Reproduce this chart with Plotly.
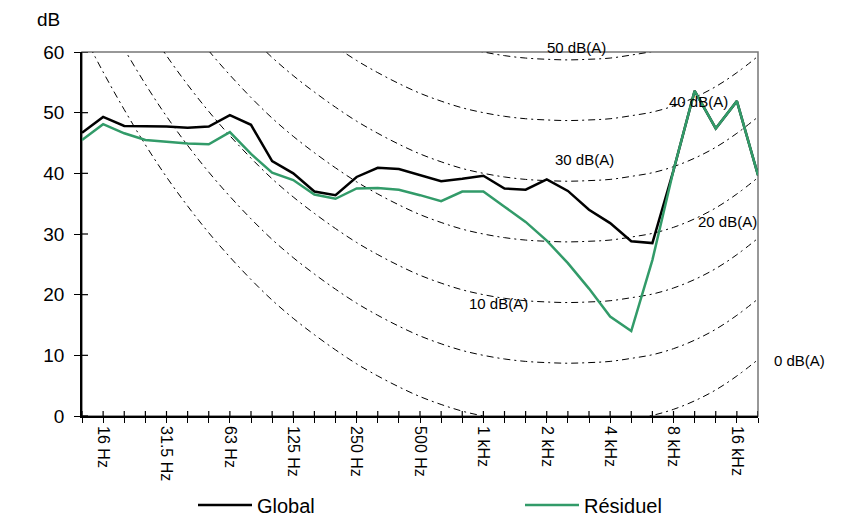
import plotly.graph_objects as go

# Third-octave band centre frequencies (Hz)
bands = [12.5, 16, 20, 25, 31.5, 40, 50, 63, 80, 100, 125, 160, 200, 250, 315,
         400, 500, 630, 800, 1000, 1250, 1600, 2000, 2500, 3150, 4000, 5000,
         6300, 8000, 10000, 12500, 16000, 20000]

# Tick labels shown under every third band
band_labels = {16: "16 Hz", 31.5: "31.5 Hz", 63: "63 Hz", 125: "125 Hz",
               250: "250 Hz", 500: "500 Hz", 1000: "1 kHz", 2000: "2 kHz",
               4000: "4 kHz", 8000: "8 kHz", 16000: "16 kHz"}

# Measured spectra (dB)
global_db = [46.7, 49.3, 47.8, 47.8, 47.7, 47.5, 47.7, 49.6, 48.0, 42.0, 40.0,
             37.0, 36.4, 39.4, 40.9, 40.7, 39.7, 38.7, 39.1, 39.6, 37.5, 37.3,
             39.0, 37.1, 34.0, 31.8, 28.8, 28.5, 40.5, 53.6, 47.4, 51.9, 39.7]
residuel_db = [45.5, 48.1, 46.6, 45.5, 45.2, 44.9, 44.8, 46.8, 43.2, 40.1, 38.9,
               36.5, 35.8, 37.5, 37.6, 37.3, 36.4, 35.4, 37.0, 37.0, 34.5, 32.0,
               28.9, 25.2, 21.0, 16.4, 14.0, 25.7, 40.5, 53.6, 47.4, 51.9, 39.7]

# Standard A-weighting corrections per third-octave band (dB)
a_weighting = [-63.4, -56.7, -50.5, -44.7, -39.4, -34.6, -30.2, -26.2, -22.5,
               -19.1, -16.1, -13.4, -10.9, -8.6, -6.6, -4.8, -3.2, -1.9, -0.8,
               0.0, 0.6, 1.0, 1.2, 1.3, 1.2, 1.0, 0.5, -0.1, -1.1, -2.5, -4.3,
               -6.6, -9.3]

# Iso-dB(A) reference curves
iso_levels = [0, 10, 20, 30, 40, 50, 60]

# Curve labels
iso_label_text = ["50 dB(A)", "40 dB(A)", "30 dB(A)", "20 dB(A)", "10 dB(A)", "0 dB(A)"]

idx = list(range(len(bands)))
FONT = "Liberation Sans, Arial, sans-serif"
GREEN = "#329b69"

fig = go.Figure()

for lvl in iso_levels:
    fig.add_trace(go.Scatter(
        x=idx, y=[lvl - a for a in a_weighting], mode="lines",
        line=dict(color="black", width=1, dash="7px,4px,2px,4px", shape="spline"),
        showlegend=False, hoverinfo="skip"))

fig.add_trace(go.Scatter(x=idx, y=global_db, mode="lines", name="Global",
                         line=dict(color="black", width=2.5)))
fig.add_trace(go.Scatter(x=idx, y=residuel_db, mode="lines", name="Résiduel",
                         line=dict(color=GREEN, width=2.5)))

# label anchors (band index, dB) kept inside the axis ranges, plus pixel shifts
label_pos = [(23.4, 60, 0, 5), (29.2, 51.9, 0, 0), (23.8, 42.2, 0, 0),
             (30.55, 32.0, 0, 0), (19.7, 18.6, 0, 0), (32, 9.1, 41, 0)]
for txt, (lx, ly, dx, dy) in zip(iso_label_text, label_pos):
    fig.add_annotation(x=lx, y=ly, xshift=dx, yshift=dy, text=txt,
                       showarrow=False, xanchor="center", yanchor="middle",
                       font=dict(family=FONT, size=15, color="black"))

fig.add_annotation(x=0, y=1.088, xref="paper", yref="paper", text="dB",
                   showarrow=False, xanchor="right", xshift=-20, yanchor="middle",
                   font=dict(family=FONT, size=19, color="black"))

# frame on top and right
fig.add_shape(type="rect", xref="paper", yref="paper", x0=0, x1=1, y0=0, y1=1,
              line=dict(color="#777777", width=1.5), layer="below")

# inner halves of the crossing ticks
for i in idx:
    fig.add_shape(type="line", xref="x", yref="paper", ysizemode="pixel",
                  yanchor=0, x0=i, x1=i, y0=0, y1=5,
                  line=dict(color="black", width=1.2))
for v in range(0, 61, 10):
    fig.add_shape(type="line", yref="y", xref="paper", xsizemode="pixel",
                  xanchor=0, y0=v, y1=v, x0=0, x1=6,
                  line=dict(color="black", width=1.2))

fig.update_layout(
    width=854, height=517,
    margin=dict(l=82, r=96, t=52, b=101, autoexpand=False),
    paper_bgcolor="white", plot_bgcolor="white",
    font=dict(family=FONT, color="black"),
    showlegend=True,
    legend=dict(orientation="h", xref="container", yref="container",
                x=193 / 854, y=12 / 517, xanchor="left", yanchor="middle",
                entrywidth=258, entrywidthmode="pixels",
                font=dict(family=FONT, size=20), itemwidth=54,
                bgcolor="rgba(0,0,0,0)"),
    xaxis=dict(range=[0, len(bands) - 1], tickmode="array", tickvals=idx,
               ticktext=[band_labels.get(b, "") for b in bands],
               ticks="outside", ticklen=5, tickwidth=1.2, tickcolor="black",
               tickangle=90, tickfont=dict(family=FONT, size=16),
               showline=True, linecolor="black", linewidth=1.8,
               showgrid=False, zeroline=False, automargin=False),
    yaxis=dict(range=[0, 60], tickmode="array", tickvals=list(range(0, 61, 10)),
               ticks="outside", ticklen=6, tickwidth=1.2, tickcolor="black",
               tickfont=dict(family=FONT, size=19), ticklabelstandoff=6,
               showline=True, linecolor="black", linewidth=1.8,
               showgrid=False, zeroline=False, automargin=False),
)

fig.write_html("out.html")
